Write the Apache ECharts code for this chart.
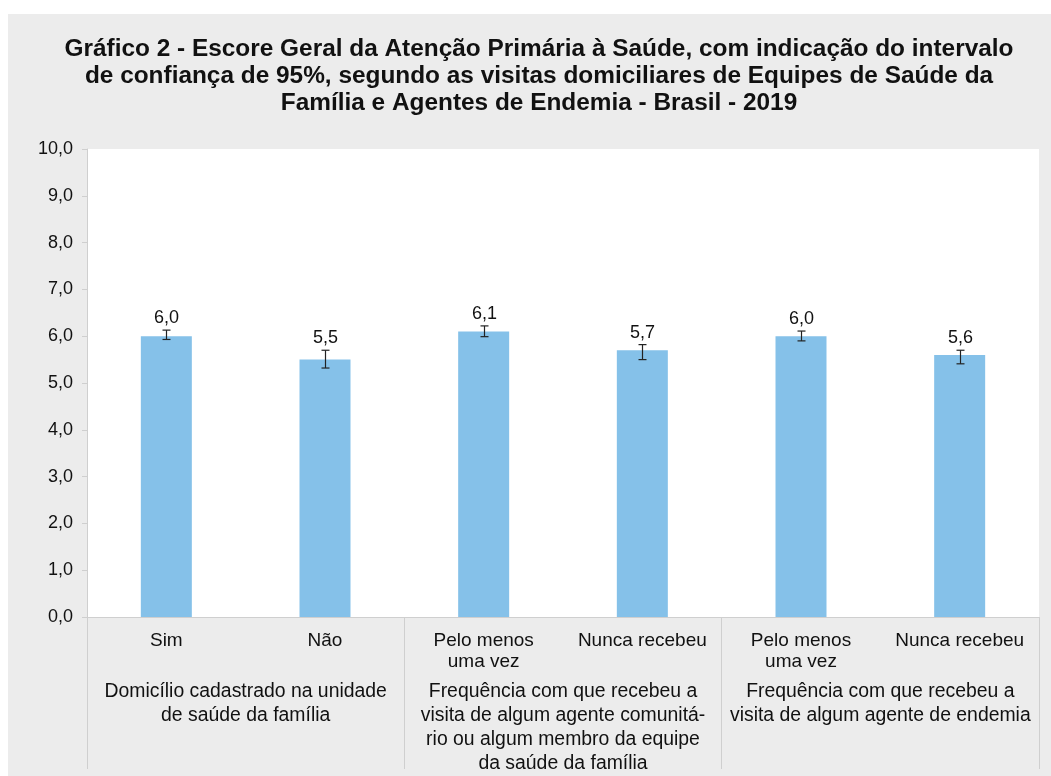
<!DOCTYPE html>
<html><head><meta charset="utf-8">
<script src="https://cdn.jsdelivr.net/npm/echarts@6/dist/echarts.min.js"></script>
<style>html,body{margin:0;padding:0;background:#fff;} #c{position:absolute;left:8px;top:14px;width:1043px;height:762px;}</style>
</head><body><div id="c"></div>
<script>
const titleText = 'Gráfico 2 - Escore Geral da Atenção Primária à Saúde, com indicação do intervalo\nde confiança de 95%, segundo as visitas domiciliares de Equipes de Saúde da\nFamília e Agentes de Endemia - Brasil - 2019';
const categories = ['Sim', 'Não', 'Pelo menos\numa vez', 'Nunca recebeu', 'Pelo menos\numa vez', 'Nunca recebeu'];
const groups = [
  'Domicílio cadastrado na unidade\nde saúde da família',
  'Frequência com que recebeu a\nvisita de algum agente comunitá-\nrio ou algum membro da equipe\nda saúde da família',
  'Frequência com que recebeu a\nvisita de algum agente de endemia'
];
const scores = [6.0, 5.5, 6.1, 5.7, 6.0, 5.6];
const ciLow = [5.93, 5.32, 5.99, 5.50, 5.90, 5.41];
const ciHigh = [6.13, 5.70, 6.22, 5.82, 6.11, 5.70];
const yMin = 0, yMax = 10, yStep = 1;

const FONT = '"Liberation Sans", Arial, sans-serif';
const fmt = v => v.toFixed(1).replace('.', ',');
const chart = echarts.init(document.getElementById('c'), null, {renderer: 'canvas'});
chart.setOption({
  backgroundColor: '#ececec',
  textStyle: {fontFamily: FONT},
  title: {
    text: titleText,
    left: 531,
    top: 22,
    textAlign: 'center',
    padding: 0,
    textStyle: {fontFamily: FONT, fontSize: 24.4, fontWeight: 'bold', color: '#111', lineHeight: 27, align: 'center'}
  },
  grid: {left: 79, right: 12, top: 135, bottom: 158, show: true, backgroundColor: '#fff', borderWidth: 0},
  xAxis: [{
    type: 'category', data: categories, position: 'bottom',
    axisLine: {show: true, lineStyle: {color: '#cfcfcf', width: 1}},
    axisTick: {show: false},
    axisLabel: {interval: 0, margin: 13, fontSize: 19, lineHeight: 21, color: '#111', fontFamily: FONT}
  }, {
    type: 'category', data: groups, position: 'bottom',
    axisLine: {show: false},
    axisTick: {show: true, length: 152, lineStyle: {color: '#cfcfcf', width: 1}},
    axisLabel: {interval: 0, margin: 63, fontSize: 19.4, lineHeight: 24, color: '#111', fontFamily: FONT}
  }],
  yAxis: {
    type: 'value', min: yMin, max: yMax, interval: yStep,
    axisLine: {show: true, lineStyle: {color: '#cfcfcf'}},
    axisTick: {show: true, length: 5, lineStyle: {color: '#cfcfcf'}},
    splitLine: {show: false},
    axisLabel: {formatter: v => fmt(v), fontSize: 18, color: '#111', margin: 14, fontFamily: FONT}
  },
  series: [{
    type: 'bar', data: scores, barWidth: 51, xAxisIndex: 0, z: 2,
    itemStyle: {color: '#85c1e9'}, silent: true
  }, {
    type: 'custom', xAxisIndex: 0, z: 5,
    data: categories.map((c, i) => [i, ciLow[i], ciHigh[i], scores[i]]),
    renderItem: function (params, api) {
      const lo = api.coord([api.value(0), api.value(1)]);
      const hi = api.coord([api.value(0), api.value(2)]);
      const x = Math.round(lo[0]) + 0.5;
      const cap = 4;
      const st = {stroke: '#222', lineWidth: 1.2};
      return {type: 'group', children: [
        {type: 'line', shape: {x1: x, y1: lo[1], x2: x, y2: hi[1]}, style: st},
        {type: 'line', shape: {x1: x - cap, y1: lo[1], x2: x + cap, y2: lo[1]}, style: st},
        {type: 'line', shape: {x1: x - cap, y1: hi[1], x2: x + cap, y2: hi[1]}, style: st},
        {type: 'text', x: x, y: hi[1] - 3, style: {text: fmt(api.value(3)), fill: '#111', font: '18px ' + FONT, textAlign: 'center', textVerticalAlign: 'bottom'}}
      ]};
    }
  }]
});
</script></body></html>
